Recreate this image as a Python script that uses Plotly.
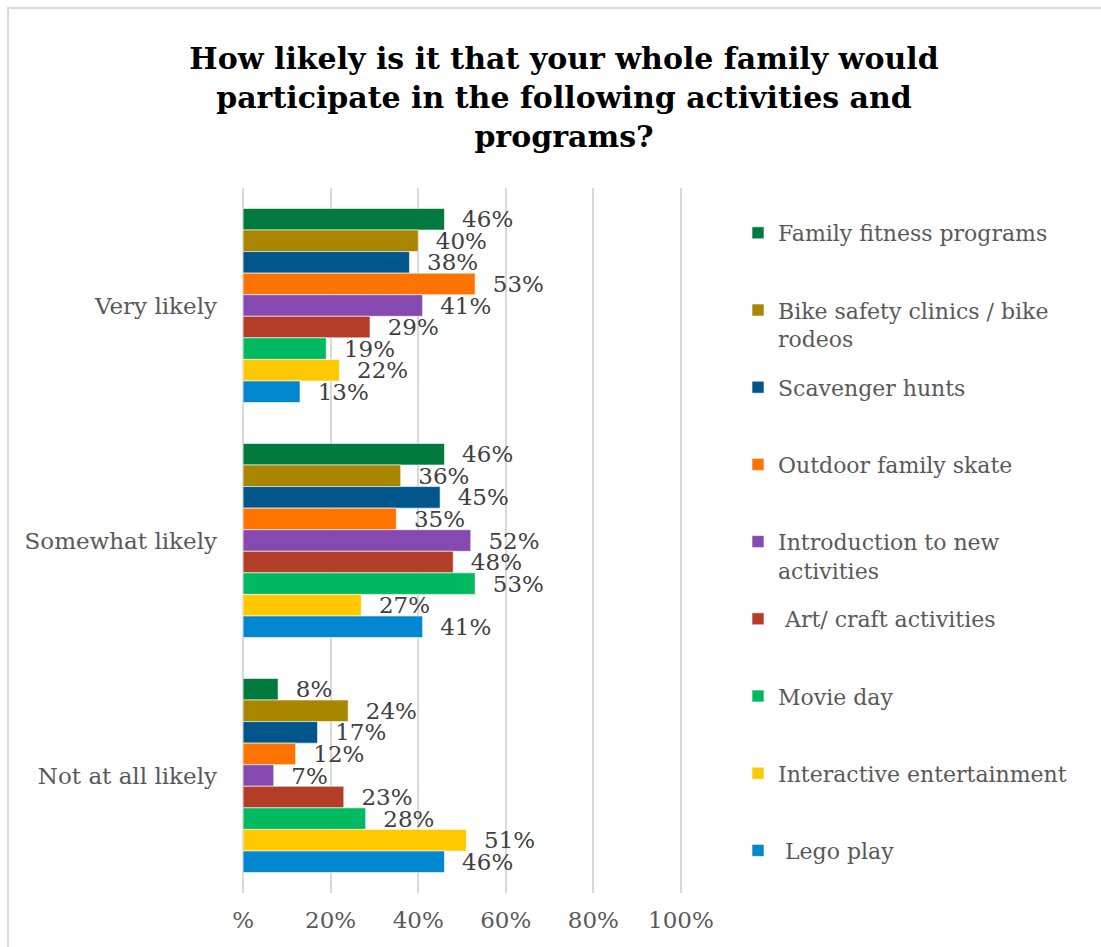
import plotly.graph_objects as go

# Survey responses (% of families) per likelihood level
levels = ["Very likely", "Somewhat likely", "Not at all likely"]

activities = [
    "Family fitness programs",
    "Bike safety clinics / bike<br>rodeos",
    "Scavenger hunts",
    "Outdoor family skate",
    "Introduction to new<br>activities",
    "\u00a0Art/ craft activities",
    "Movie day",
    "Interactive entertainment",
    "\u00a0Lego play",
]

family_fitness = [46, 46, 8]
bike_safety = [40, 36, 24]
scavenger_hunts = [38, 45, 17]
outdoor_skate = [53, 35, 12]
intro_new = [41, 52, 7]
art_craft = [29, 48, 23]
movie_day = [19, 53, 28]
interactive = [22, 27, 51]
lego_play = [13, 41, 46]

series = [family_fitness, bike_safety, scavenger_hunts, outdoor_skate,
          intro_new, art_craft, movie_day, interactive, lego_play]

colors = ["#007A3D", "#A98600", "#00568A", "#FF7300", "#8549B0",
          "#B43D28", "#00B960", "#FFC800", "#0087D0"]

x_tickvals = [0, 20, 40, 60, 80, 100]
x_ticktext = ["%", "20%", "40%", "60%", "80%", "100%"]

FONT = "DejaVu Serif"
W, H = 1101, 947
ML, MR, MT, MB = 242, 419, 188, 54

fig = go.Figure()
for i, (name, vals, col) in enumerate(zip(activities, series, colors)):
    label_name = name if "<br>" in name else name + "<br>\u00a0"
    fig.add_trace(go.Bar(
        name=label_name,
        y=levels,
        x=vals,
        orientation="h",
        marker=dict(color=col, line=dict(color="white", width=0.6)),
        text=["\u00a0\u00a0" + f"{v}%" for v in vals],
        textposition="outside",
        constraintext="none",
        cliponaxis=False,
        textfont=dict(family=FONT, size=23, color="#404040"),
        legendgroup=f"g{i}",
        hoverinfo="skip",
    ))

pw = W - ML - MR
ph = H - MT - MB

fig.update_layout(
    width=W, height=H,
    margin=dict(l=ML, r=MR, t=MT, b=MB),
    paper_bgcolor="white",
    plot_bgcolor="white",
    barmode="group",
    bargap=0.174,
    bargroupgap=0,
    title=dict(
        text="How likely is it that your whole family would<br>"
             "participate in the following activities and<br>programs?",
        x=564 / W, xanchor="center",
        y=1 - 69 / H, yanchor="top",
        font=dict(family=FONT, size=30, color="black", weight="bold"),
    ),
    font=dict(family=FONT, color="#595959"),
    showlegend=True,
    legend=dict(
        x=(738 - ML) / pw, xanchor="left",
        y=1 - (212 - MT) / ph, yanchor="top",
        font=dict(family=FONT, size=22, color="#595959"),
        valign="top",
        tracegroupgap=17,
        traceorder="grouped",
        bgcolor="rgba(0,0,0,0)",
    ),
    xaxis=dict(
        range=[-0.25, 100.25],
        tickvals=x_tickvals,
        ticktext=x_ticktext,
        showgrid=True,
        gridcolor="#D9D9D9",
        gridwidth=2,
        zeroline=False,
        showline=False,
        ticks="",
        ticklabelstandoff=11,
        tickfont=dict(family=FONT, size=23, color="#595959"),
        fixedrange=True,
    ),
    yaxis=dict(
        categoryorder="array",
        categoryarray=levels,
        autorange="reversed",
        showgrid=False,
        zeroline=False,
        showline=False,
        ticks="",
        ticklabelstandoff=24,
        tickfont=dict(family=FONT, size=23, color="#595959"),
        fixedrange=True,
    ),
    shapes=[dict(
        type="rect", xref="paper", yref="paper",
        x0=(8 - ML) / pw, x1=(W + 40 - ML) / pw,
        y0=1 + (MT - 8) / ph, y1=-(MB + 40) / ph,
        line=dict(color="#D9D9D9", width=2),
        fillcolor="rgba(0,0,0,0)",
        layer="below",
    )],
)

fig.write_html("out.html")
